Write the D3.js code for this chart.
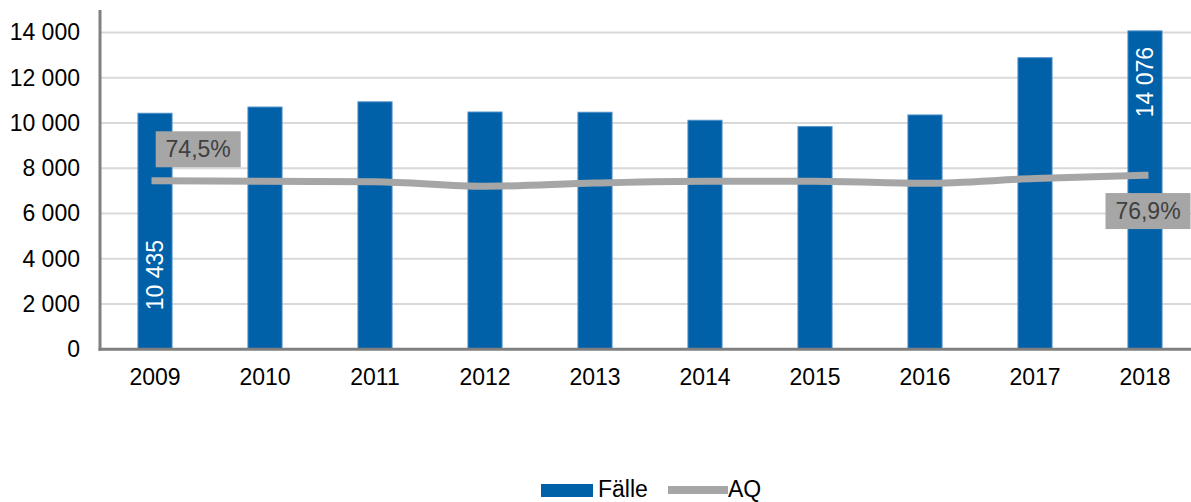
<!DOCTYPE html>
<html lang="de">
<head>
    <meta charset="UTF-8">
    <title>Fälle und AQ 2009–2018</title>
    <style>
        body { margin: 0; background: #fff; }
        svg text { font-family: "Liberation Sans", Arial, sans-serif; }
        .tick text { font-size: 23px; fill: #000; }
    </style>
</head>
<body>
    <div id="chart"></div>

    <script src="https://d3js.org/d3.v7.min.js"></script>
    <script>
        // Daten
        const jahre = ["2009", "2010", "2011", "2012", "2013", "2014", "2015", "2016", "2017", "2018"];
        const faelle = [10435, 10710, 10940, 10490, 10480, 10125, 9845, 10360, 12890, 14076];
        const aq = [74.5, 74.3, 74.1, 72.1, 73.5, 74.3, 74.3, 73.4, 75.5, 76.9];
        const yTicks = [0, 2000, 4000, 6000, 8000, 10000, 12000, 14000];

        const width = 1191, height = 502;
        const plotLeft = 100, plotRight = 1200, plotBottom = 349.3, plotTop = 10;

        const svg = d3.select("#chart").append("svg")
            .attr("width", width).attr("height", height);

        const x = d3.scaleBand().domain(jahre).range([plotLeft, plotRight])
            .paddingInner(0.69).paddingOuter(0.345);
        const y = d3.scaleLinear().domain([0, 15000]).range([plotBottom, plotTop]);
        // AQ auf derselben Höhe wie Fälle (100 % = 10 000)
        const yAq = d3.scaleLinear().domain([0, 150]).range([plotBottom, plotTop]);

        const fmt = v => d3.format(",")(v).replace(/,/g, " ");

        // Gitterlinien
        svg.append("g")
            .selectAll("line")
            .data(yTicks.filter(t => t > 0))
            .enter().append("line")
            .attr("x1", plotLeft).attr("x2", width)
            .attr("y1", d => y(d)).attr("y2", d => y(d))
            .attr("stroke", "#d9d9d9").attr("stroke-width", 2);

        // Balken
        svg.append("g")
            .selectAll("rect")
            .data(jahre)
            .enter().append("rect")
            .attr("x", (d, i) => x(d))
            .attr("width", x.bandwidth())
            .attr("y", (d, i) => y(faelle[i]))
            .attr("height", (d, i) => plotBottom - y(faelle[i]))
            .attr("fill", "#0060a8")
            .attr("stroke", "#4d8fc9").attr("stroke-width", 1);

        // Linie AQ
        const line = d3.line()
            .x((d, i) => x(jahre[i]) + x.bandwidth() / 2)
            .y(d => yAq(d))
            .curve(d3.curveMonotoneX);

        svg.append("path")
            .datum(aq)
            .attr("d", line)
            .attr("fill", "none")
            .attr("stroke", "#a6a6a6")
            .attr("stroke-width", 7)
            .attr("stroke-linecap", "square");

        // Achsen
        const yAxis = svg.append("g")
            .attr("transform", `translate(${plotLeft},0)`)
            .call(d3.axisLeft(y).tickValues(yTicks).tickFormat(fmt).tickSize(0).tickPadding(20));
        yAxis.select(".domain").remove();

        const xAxis = svg.append("g")
            .attr("transform", `translate(0,${plotBottom})`)
            .call(d3.axisBottom(x).tickSize(0).tickPadding(19));
        xAxis.select(".domain").remove();

        svg.append("line")
            .attr("x1", plotLeft).attr("x2", plotLeft).attr("y1", plotTop).attr("y2", plotBottom + 1.5)
            .attr("stroke", "#808080").attr("stroke-width", 3);
        svg.append("line")
            .attr("x1", plotLeft - 1.5).attr("x2", width).attr("y1", plotBottom).attr("y2", plotBottom)
            .attr("stroke", "#808080").attr("stroke-width", 3);

        // Beschriftung der Balken (erster und letzter)
        const barLabels = [
            { i: 0, anchor: "start", pos: v => plotBottom - 39 },
            { i: 9, anchor: "end", pos: v => y(v) + 16 }
        ];
        barLabels.forEach(b => {
            const cx = x(jahre[b.i]) + x.bandwidth() / 2;
            const cy = b.pos(faelle[b.i]);
            svg.append("text")
                .attr("transform", `translate(${cx},${cy}) rotate(-90)`)
                .attr("text-anchor", b.anchor)
                .attr("dy", "0.35em")
                .attr("font-size", 23)
                .attr("fill", "#fff")
                .text(fmt(faelle[b.i]));
        });

        // Beschriftung AQ
        const aqLabels = [
            { i: 0, dx: 0.7, dy: -49.5 },
            { i: 9, dx: -39.5, dy: 17.7 }
        ];
        aqLabels.forEach(l => {
            const px = x(jahre[l.i]) + x.bandwidth() / 2 + l.dx;
            const py = yAq(aq[l.i]) + l.dy;
            svg.append("rect")
                .attr("x", px).attr("y", py)
                .attr("width", 85).attr("height", 36)
                .attr("fill", "#a6a6a6");
            svg.append("text")
                .attr("x", px + 42.5).attr("y", py + 18)
                .attr("dy", "0.35em")
                .attr("text-anchor", "middle")
                .attr("font-size", 23)
                .attr("fill", "#404040")
                .text(d3.format(".1f")(aq[l.i]).replace(".", ",") + "%");
        });

        // Legende
        const legend = svg.append("g");
        legend.append("rect")
            .attr("x", 541).attr("y", 484).attr("width", 52).attr("height", 13)
            .attr("fill", "#0060a8");
        legend.append("text")
            .attr("x", 598).attr("y", 497).attr("font-size", 23).text("Fälle");
        legend.append("line")
            .attr("x1", 668).attr("x2", 728).attr("y1", 490).attr("y2", 490)
            .attr("stroke", "#a6a6a6").attr("stroke-width", 8);
        legend.append("text")
            .attr("x", 728).attr("y", 497).attr("font-size", 23).text("AQ");
    </script>
</body>
</html>
